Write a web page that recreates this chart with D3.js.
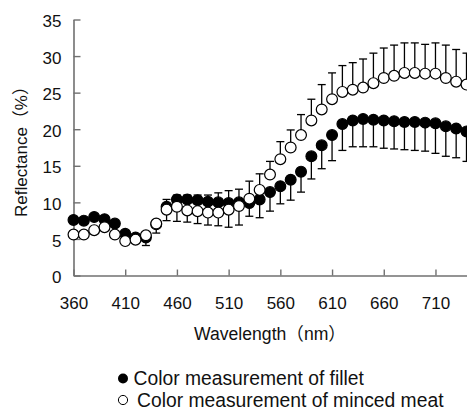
<!DOCTYPE html>
<html lang="en">
	<head>
		<meta charset="UTF-8" />
		<script src="https://d3js.org/d3.v7.min.js"></script>
		<style>
			body{
				margin:0;
				background:#fff;
			}
			text{
				font-family: "Liberation Sans", Arial, "Noto Sans CJK JP", sans-serif;
				font-size: 17px;
				fill: #111;
			}
			.legend text{
				font-size: 19.3px;
			}
		</style>
	</head>
	<body>
		<div id="chart"></div>
		<script>

			// wavelength (nm), one point every 10 nm
			var wavelengths = [360,370,380,390,400,410,420,430,440,450,460,470,480,490,500,510,520,530,540,550,
				560,570,580,590,600,610,620,630,640,650,660,670,680,690,700,710,720,730,740];

			// reflectance (%)
			var fillet = [7.6,7.5,8.0,7.7,7.1,5.7,5.2,5.2,7.0,9.4, 10.4,10.4,10.3,10.1,10.0,9.9,10.0,9.9,10.4,11.4,
				12.2,13.1,14.2,16.3,17.8,19.2,20.7,21.2,21.4,21.3, 21.2,21.1,21.0,21.0,20.9,20.8,20.4,20.1,19.7];
			var minced = [5.6,5.6,6.2,6.6,5.6,4.7,4.9,5.5,7.1,9.0, 9.4,8.9,8.8,8.6,8.6,9.0,9.5,10.5,11.7,13.8,
				15.9,17.5,19.2,21.2,22.7,24.1,25.1,25.4,25.7,26.3, 27.0,27.3,27.7,27.7,27.6,27.6,27.0,26.5,26.1];

			// SD, sign = side the bar is drawn on (+ up, - down, 0 none)
			var filletErr = [0,0,0,0,0,0,0,0,0,1.0, 0.6,0.6,0.7,0.9,1.3,1.7,1.8,-1.8,-2.5,-2.6,
				-2.4,-2.8,-2.8,-3.1,-3.2,-3.5,-3.6,-3.6,-3.8,-3.7, -3.8,-3.8,-3.8,-3.9,-3.9,-4.1,-4.1,-4.0,-4.1];
			var mincedErr = [0,0,0,0,0,0,0,-1.4,-1.3,-1.5, -2.0,-1.6,-1.7,-1.7,-1.8,-2.4,-2.6,2.4,2.2,1.8,
				2.4,2.4,2.8,2.9,3.4,3.6,3.6,3.7,3.9,4.1, 4.1,4.2,4.1,4.1,4.0,4.2,4.5,4.4,4.3];

			var xTicks = [360,410,460,510,560,610,660,710];
			var yTicks = [0,5,10,15,20,25,30,35];

			var legendLabels = ["Color measurement of fillet", "Color measurement of minced meat"];

			var width = 467, height = 412;
			var svg = d3.select("#chart").append("svg")
				.attr("width", width)
				.attr("height", height);

			var x = d3.scaleLinear().domain([360, 740]).range([73.5, 466.5]);
			var y = d3.scaleLinear().domain([0, 35]).range([275.5, 19.5]);

			var axisColor = "#707070";

			// axes, ticks point inward
			var xAxis = svg.append("g")
				.attr("transform", "translate(0," + y(0) + ")")
				.call(d3.axisBottom(x).tickValues(xTicks).tickSizeInner(-6).tickSizeOuter(0).tickPadding(21));
			var yAxis = svg.append("g")
				.attr("transform", "translate(" + x(360) + ",0)")
				.call(d3.axisLeft(y).tickValues(yTicks).tickSizeInner(-7).tickSizeOuter(0).tickPadding(12));

			[xAxis, yAxis].forEach(function(g){
				g.attr("font-family", null).attr("font-size", null);
				g.select(".domain").attr("stroke", axisColor).attr("stroke-width", 1.6);
				g.selectAll(".tick line").attr("stroke", axisColor).attr("stroke-width", 1.4);
				g.selectAll(".tick text").attr("fill", "#111");
			});
			yAxis.selectAll(".tick text").attr("dy", "0.42em");

			svg.append("text")
				.attr("transform", "translate(27," + ((y(0) + y(35)) / 2) + ") rotate(-90)")
				.attr("text-anchor", "middle")
				.text("Reflectance（%）");

			svg.append("text")
				.attr("x", (x(360) + x(740)) / 2)
				.attr("y", 340)
				.attr("text-anchor", "middle")
				.style("font-size", "17.6px")
				.text("Wavelength（nm）");

			var series = [
				{name: "fillet", values: fillet, err: filletErr, fill: "#000"},
				{name: "minced", values: minced, err: mincedErr, fill: "#fff"}
			];

			// error bars first so the markers sit on top
			var capW = 4;
			series.forEach(function(s){
				var pts = wavelengths.map(function(w, i){ return {w: w, v: s.values[i], e: s.err[i]}; })
					.filter(function(d){ return d.e !== 0; });
				var bars = svg.append("g").attr("class", "err-" + s.name)
					.selectAll("g").data(pts).enter().append("g")
					.attr("stroke", "#000").attr("stroke-width", 1.3);
				bars.append("line")
					.attr("x1", function(d){ return x(d.w); })
					.attr("x2", function(d){ return x(d.w); })
					.attr("y1", function(d){ return y(d.v); })
					.attr("y2", function(d){ return y(d.v + d.e); });
				bars.append("line")
					.attr("x1", function(d){ return x(d.w) - capW; })
					.attr("x2", function(d){ return x(d.w) + capW; })
					.attr("y1", function(d){ return y(d.v + d.e); })
					.attr("y2", function(d){ return y(d.v + d.e); });
			});

			series.forEach(function(s){
				svg.append("g").attr("class", "pts-" + s.name)
					.selectAll("circle").data(wavelengths).enter().append("circle")
					.attr("cx", function(d){ return x(d); })
					.attr("cy", function(d, i){ return y(s.values[i]); })
					.attr("r", 5.4)
					.attr("fill", s.fill)
					.attr("stroke", "#000")
					.attr("stroke-width", 1.2);
			});

			// legend
			var legend = svg.append("g").attr("class", "legend")
				.selectAll("g").data(series).enter().append("g")
				.attr("transform", function(d, i){ return "translate(123," + (378.5 + i * 21.5) + ")"; });
			legend.append("circle")
				.attr("r", function(d, i){ return i === 0 ? 5 : 4.6; })
				.attr("fill", function(d){ return d.fill; })
				.attr("stroke", "#000")
				.attr("stroke-width", function(d, i){ return i === 0 ? 0 : 1; });
			legend.append("text")
				.attr("x", function(d, i){ return i === 0 ? 10.5 : 14; })
				.attr("y", 6.8)
				.text(function(d, i){ return legendLabels[i]; });

		</script>
	</body>
</html>
